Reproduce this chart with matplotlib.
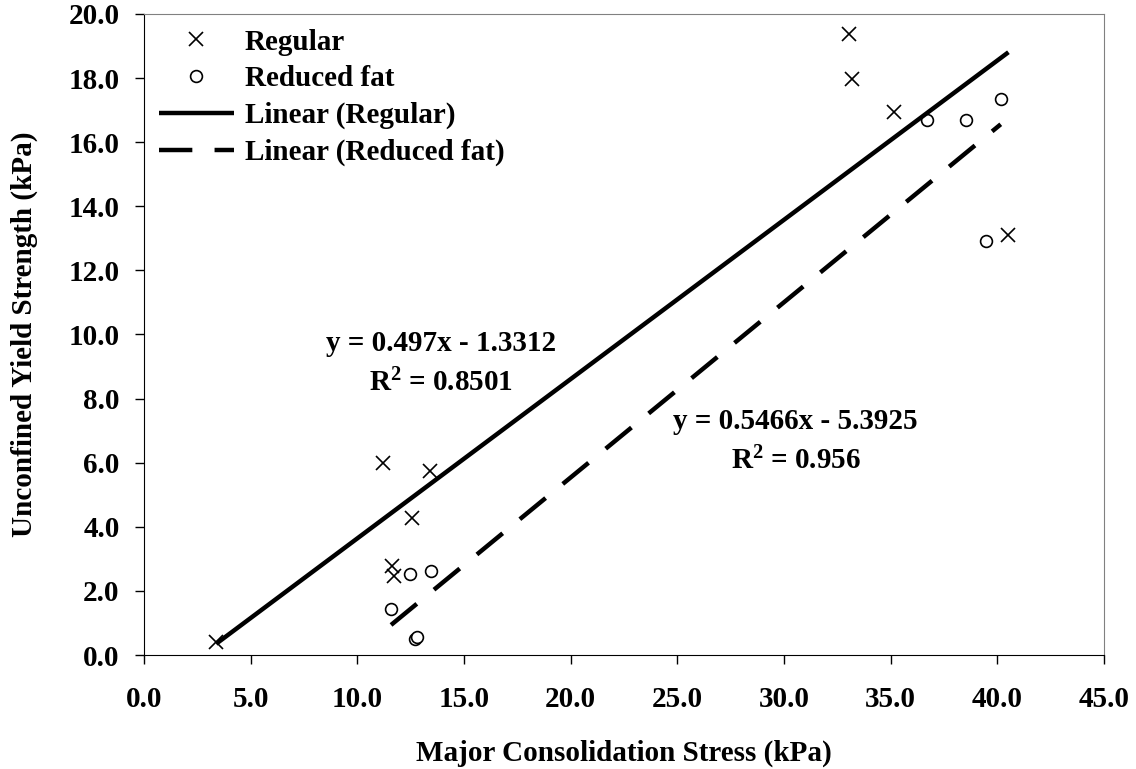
import matplotlib
matplotlib.use("Agg")
import matplotlib.pyplot as plt
import numpy as np

# data
regular_x = [3.38, 11.19, 13.41, 12.55, 11.61, 11.72, 33.07, 33.21, 35.17, 40.52]
regular_y = [0.42, 5.99, 5.73, 4.29, 2.78, 2.45, 19.37, 17.98, 16.93, 13.12]
reduced_x = [12.47, 13.45, 11.58, 12.72, 12.80, 36.69, 38.52, 40.16, 39.47]
reduced_y = [2.53, 2.63, 1.43, 0.50, 0.55, 16.70, 16.70, 17.35, 12.92]

# trend line coefficients as printed on the chart (slope, intercept, r2)
regular_fit = (0.497, -1.3312, 0.8501)
reduced_fit = (0.5466, -5.3925, 0.956)

plt.rcParams["font.family"] = "Liberation Serif"
plt.rcParams["font.weight"] = "bold"
plt.rcParams["mathtext.fontset"] = "custom"
plt.rcParams["mathtext.rm"] = "Liberation Serif:bold"
plt.rcParams["mathtext.default"] = "rm"

FS = 21

fig = plt.figure(figsize=(11.36, 7.69), dpi=100)
ax = fig.add_axes([144 / 1136, 1 - 655 / 769, 960 / 1136, 641 / 769])

ax.plot(regular_x, regular_y, "x", color="black", markersize=10, markeredgewidth=1.2,
        label="Regular")
ax.plot(reduced_x, reduced_y, "o", color="black", markerfacecolor="white",
        markersize=8.5, markeredgewidth=1.2, label="Reduced fat")

xs = np.array([min(regular_x), max(regular_x)])
ax.plot(xs, regular_fit[0] * xs + regular_fit[1], color="black", linewidth=3.2,
        solid_capstyle="butt", label="Linear (Regular)")
xs = np.array([min(reduced_x), max(reduced_x)])
ax.plot(xs, reduced_fit[0] * xs + reduced_fit[1], color="black", linewidth=3.2,
        dashes=(7.5, 5), dash_capstyle="butt", label="Linear (Reduced fat)")


def fit_label(x, y, fit):
    slope, icpt, r2 = fit
    ax.text(x, y, f"y = {slope}x - {abs(icpt)}", ha="center", va="center",
            fontsize=FS, fontweight="bold")
    ax.text(x, y - 1.24, f"R$^{{2}}$ = {r2}", ha="center", va="center",
            fontsize=FS, fontweight="bold")


fit_label(13.92, 9.72, regular_fit)
fit_label(30.55, 7.28, reduced_fit)

ax.set_xlim(0, 45)
ax.set_ylim(0, 20)
xt = np.arange(0, 45.1, 5)
yt = np.arange(0, 20.1, 2)
ax.set_xticks(xt)
ax.set_yticks(yt)
ax.set_xticklabels([f"{v:.1f}" for v in xt])
ax.set_yticklabels([f"{v:.1f}" for v in yt])
ax.tick_params(direction="out", length=6.5, width=1, labelsize=FS)
ax.tick_params(axis="x", pad=16)
ax.tick_params(axis="y", pad=11)
for lab in ax.get_xticklabels() + ax.get_yticklabels():
    lab.set_fontweight("bold")

for side in ("top", "right"):
    ax.spines[side].set_color("#808080")
for side in ("left", "bottom"):
    ax.spines[side].set_color("black")

ax.set_xlabel("Major Consolidation Stress (kPa)", fontsize=FS, fontweight="bold",
              labelpad=19)
ax.set_ylabel("Unconfined Yield Strength (kPa)", fontsize=FS, fontweight="bold",
              labelpad=22)

ax.legend(loc="upper left", frameon=False, handlelength=2.6,
          handletextpad=0.35, labelspacing=0.33, borderaxespad=0.1,
          prop={"weight": "bold", "size": FS})

fig.savefig("out.png", dpi=100)
